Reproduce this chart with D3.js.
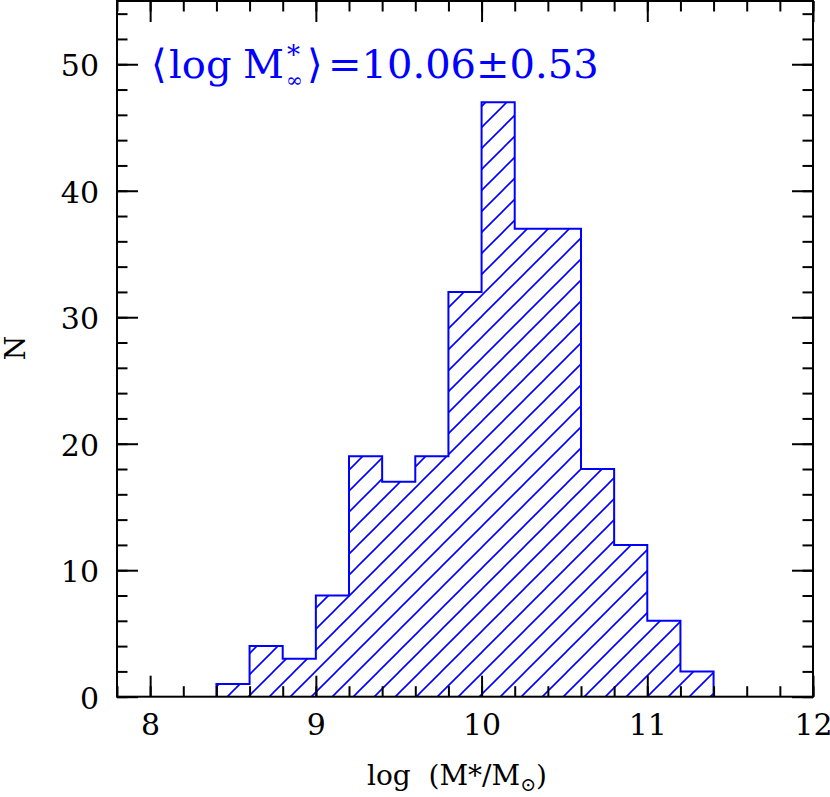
<!DOCTYPE html>
<html>
<head>
<meta charset="utf-8">
<script src="https://cdn.jsdelivr.net/npm/d3@7"></script>
<style>
  body { margin: 0; background: #fff; }
  svg { display: block; }
  text { font-family: "DejaVu Serif", serif; white-space: pre; }
</style>
</head>
<body>
<div class="canvas"></div>
<script>
// histogram bins (left edges, width 0.2) and counts
const binLeft = [8.4, 8.6, 8.8, 9.0, 9.2, 9.4, 9.6, 9.8, 10.0, 10.2, 10.4, 10.6, 10.8, 11.0, 11.2];
const counts  = [1, 4, 3, 8, 19, 17, 19, 32, 47, 37, 37, 18, 12, 6, 2];
const binWidth = 0.2;
const xTicks = [8, 9, 10, 11, 12];
const yTicks = [0, 10, 20, 30, 40, 50];

const W = 830, H = 797;
const margin = {left: 117, right: 17, top: 1, bottom: 100};
const blue = "#0000ff";

const svg = d3.select(".canvas").append("svg")
    .attr("width", W)
    .attr("height", H);

const x = d3.scaleLinear().domain([7.8, 12]).range([margin.left, W - margin.right]);
const y = d3.scaleLinear().domain([0, 55]).range([H - margin.bottom - 0.3, margin.top]);

// hatch pattern: 45 degree lines, 21px apart horizontally
const pat = svg.append("defs").append("pattern")
    .attr("id", "hatch")
    .attr("patternUnits", "userSpaceOnUse")
    .attr("width", 21)
    .attr("height", 21);
pat.append("path")
    .attr("d", "M-2,23 L23,-2 M-2,2 L2,-2 M19,23 L23,19")
    .attr("stroke", blue)
    .attr("stroke-width", 1.6)
    .attr("fill", "none");

// step outline of the histogram
const pts = [[binLeft[0], 0]];
binLeft.forEach((b, i) => {
    pts.push([b, counts[i]]);
    pts.push([b + binWidth, counts[i]]);
});
pts.push([binLeft[binLeft.length - 1] + binWidth, 0]);

const line = d3.line().x(d => x(d[0])).y(d => y(d[1]));

svg.append("path")
    .attr("d", line(pts) + "Z")
    .attr("fill", "url(#hatch)")
    .attr("stroke", "none");

svg.append("path")
    .attr("d", line(pts))
    .attr("fill", "none")
    .attr("stroke", blue)
    .attr("stroke-width", 2);

// axes, ticks pointing inwards on all four sides
const xMinor = d3.range(7.8, 12.01, 0.2).map(v => +v.toFixed(1));
const yMinor = d3.range(0, 55.01, 2);
const x0 = y.range()[0], x1 = y.range()[1];

function addAxis(axisFn, scale, ticks, size, labels, transform) {
    const ax = axisFn(scale).tickValues(ticks).tickSize(-size).tickSizeOuter(0)
        .tickPadding(18).tickFormat(labels ? d3.format("d") : "");
    const g = svg.append("g").attr("transform", transform).call(ax);
    g.select(".domain").remove();
    g.selectAll("line").attr("stroke", "#000").attr("stroke-width", 2);
    g.selectAll("text").attr("font-size", 30).attr("font-family", "DejaVu Serif").attr("fill", "#000");
    return g;
}

addAxis(d3.axisBottom, x, xMinor, 10.5, false, `translate(0,${x0})`);
const gx = addAxis(d3.axisBottom, x, xTicks, 21, true, `translate(0,${x0})`);
gx.selectAll("text").attr("dy", null).attr("y", 38);
addAxis(d3.axisTop, x, xMinor, 10.5, false, `translate(0,${x1})`);
addAxis(d3.axisTop, x, xTicks, 21, false, `translate(0,${x1})`);
addAxis(d3.axisLeft, y, yMinor, 10.5, false, `translate(${x.range()[0]},0)`);
const gy = addAxis(d3.axisLeft, y, yTicks, 21, true, `translate(${x.range()[0]},0)`);
gy.selectAll("text").attr("dy", null).attr("y", 11.5).attr("x", -18);
addAxis(d3.axisRight, y, yMinor, 10.5, false, `translate(${x.range()[1]},0)`);
addAxis(d3.axisRight, y, yTicks, 21, false, `translate(${x.range()[1]},0)`);

// frame
svg.append("rect")
    .attr("x", x.range()[0])
    .attr("y", y.range()[1])
    .attr("width", x.range()[1] - x.range()[0])
    .attr("height", y.range()[0] - y.range()[1])
    .attr("fill", "none")
    .attr("stroke", "#000")
    .attr("stroke-width", 2);

// axis titles
const xl = svg.append("text")
    .attr("x", 457)
    .attr("y", 785)
    .attr("text-anchor", "middle")
    .attr("font-size", 28);
xl.append("tspan").text("log  (M*/M");
xl.append("tspan").attr("font-size", 19).attr("dy", 6).text("\u2299");
xl.append("tspan").attr("dy", -6).text(")");

svg.append("text")
    .attr("transform", "translate(25,348) rotate(-90)")
    .attr("text-anchor", "middle")
    .attr("font-size", 28)
    .text("N");

// annotation
const ann = svg.append("g").attr("fill", blue);
const base = 77.5;
ann.append("text").attr("x", 151).attr("y", base).attr("font-size", 40).text("\u27e8");
ann.append("text").attr("x", 169).attr("y", base).attr("font-size", 40).text("log");
ann.append("text").attr("x", 243).attr("y", base).attr("font-size", 40).text("M");
ann.append("text").attr("x", 287).attr("y", base - 14).attr("font-size", 26).text("*");
ann.append("text").attr("x", 286).attr("y", base + 9).attr("font-size", 20).text("\u221e");
ann.append("text").attr("x", 307).attr("y", base).attr("font-size", 40).text("\u27e9");
ann.append("text").attr("x", 328).attr("y", base).attr("font-size", 40).text("=10.06\u00b10.53");
</script>
</body>
</html>
